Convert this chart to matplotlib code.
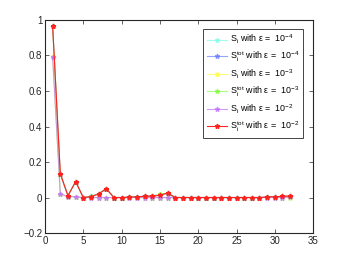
import numpy as np
import matplotlib.pyplot as plt

plt.rcParams['font.family'] = ['Liberation Sans', 'DejaVu Sans']
plt.rcParams['mathtext.fontset'] = 'custom'
plt.rcParams['mathtext.rm'] = 'Liberation Sans'
plt.rcParams['mathtext.it'] = 'Liberation Sans'

# parameter index
idx = np.arange(1, 33)

# first order indices S_i
s_first_4 = [0.79, 0.02, 0.004, 0.004, 0.0, 0.0, 0.0, 0.0, 0.0, 0.0, 0.0, 0.0, 0.0, 0.0, 0.0, 0.0,
             0.0, 0.0, 0.0, 0.0, 0.0, 0.0, 0.0, 0.0, 0.0, 0.0, 0.0, 0.0, 0.0, 0.0, 0.0, 0.0]
s_first_3 = [0.795, 0.02, 0.005, 0.005, 0.0, 0.0, 0.0, 0.0, 0.0, 0.0, 0.0, 0.0, 0.0, 0.0, 0.0, 0.0,
             0.0, 0.0, 0.0, 0.0, 0.0, 0.0, 0.0, 0.0, 0.0, 0.0, 0.0, 0.0, 0.0, 0.0, 0.0, 0.0]
s_first_2 = [0.79, 0.02, 0.005, 0.005, 0.0, 0.0, 0.0, 0.0, 0.0, 0.0, 0.0, 0.0, 0.0, 0.0, 0.0, 0.0,
             0.0, 0.0, 0.0, 0.0, 0.0, 0.0, 0.0, 0.0, 0.0, 0.0, 0.0, 0.0, 0.0, 0.0, 0.0, 0.002]

# total indices S_i^tot
s_tot_4 = [0.965, 0.13, 0.01, 0.088, 0.0, 0.006, 0.02, 0.048, 0.0, 0.0, 0.002, 0.004, 0.007, 0.009,
           0.014, 0.022, 0.0, 0.0, 0.0, 0.0, 0.0, 0.0, 0.0, 0.0, 0.0, 0.0, 0.0, 0.0, 0.002, 0.004, 0.006, 0.008]
s_tot_3 = [0.965, 0.135, 0.01, 0.09, 0.0, 0.006, 0.02, 0.05, 0.0, 0.0, 0.002, 0.004, 0.007, 0.009,
           0.018, 0.025, 0.0, 0.0, 0.0, 0.0, 0.0, 0.0, 0.0, 0.0, 0.0, 0.0, 0.0, 0.0, 0.002, 0.004, 0.006, 0.009]
s_tot_2 = [0.965, 0.135, 0.01, 0.09, 0.0, 0.005, 0.02, 0.05, 0.0, 0.0, 0.002, 0.004, 0.007, 0.008,
           0.012, 0.026, 0.0, 0.0, 0.0, 0.0, 0.0, 0.0, 0.0, 0.0, 0.0, 0.0, 0.0, 0.0, 0.003, 0.005, 0.006, 0.009]

series = [
    (s_first_4, '#7ffde8', r'S$_\mathregular{i}$ with ε =  10$^{-4}$'),
    (s_tot_4, '#6a7dff', r'S$_\mathregular{i}^\mathregular{tot}$ with ε =  10$^{-4}$'),
    (s_first_3, '#ffff40', r'S$_\mathregular{i}$ with ε =  10$^{-3}$'),
    (s_tot_3, '#80ff40', r'S$_\mathregular{i}^\mathregular{tot}$ with ε =  10$^{-3}$'),
    (s_first_2, '#c070ff', r'S$_\mathregular{i}$ with ε =  10$^{-2}$'),
    (s_tot_2, '#ff2020', r'S$_\mathregular{i}^\mathregular{tot}$ with ε =  10$^{-2}$'),
]

fig = plt.figure(figsize=(3.46, 2.63), dpi=100)
ax = fig.add_axes([0.130, 0.114, 0.775, 0.810])

for vals, col, lab in series:
    alpha = 1.0 if col == '#ff2020' else 0.7
    ax.plot(idx, vals, color=col, marker='*', markersize=3.5, linewidth=0.8,
            alpha=alpha, label=lab)

ax.set_xlim(0, 35)
ax.set_ylim(-0.2, 1)
ax.set_xticks(range(0, 36, 5))
ax.set_yticks([-0.2, 0, 0.2, 0.4, 0.6, 0.8, 1])
ax.set_yticklabels(['\u22120.2', '0', '0.2', '0.4', '0.6', '0.8', '1'])
ax.tick_params(direction='in', length=3, width=0.5, labelsize=7, colors='#262626',
               top=True, right=True, pad=2)
for sp in ax.spines.values():
    sp.set_linewidth(0.8)
    sp.set_color('#262626')

leg = ax.legend(loc='upper left', bbox_to_anchor=(0.59, 0.958), fontsize=6.4,
                fancybox=False, edgecolor='#262626', framealpha=1,
                handlelength=2.2, borderpad=0.45, labelspacing=0.42,
                handletextpad=0.35, borderaxespad=0)
leg.get_frame().set_linewidth(0.6)

fig.savefig('out.png', dpi=100)
